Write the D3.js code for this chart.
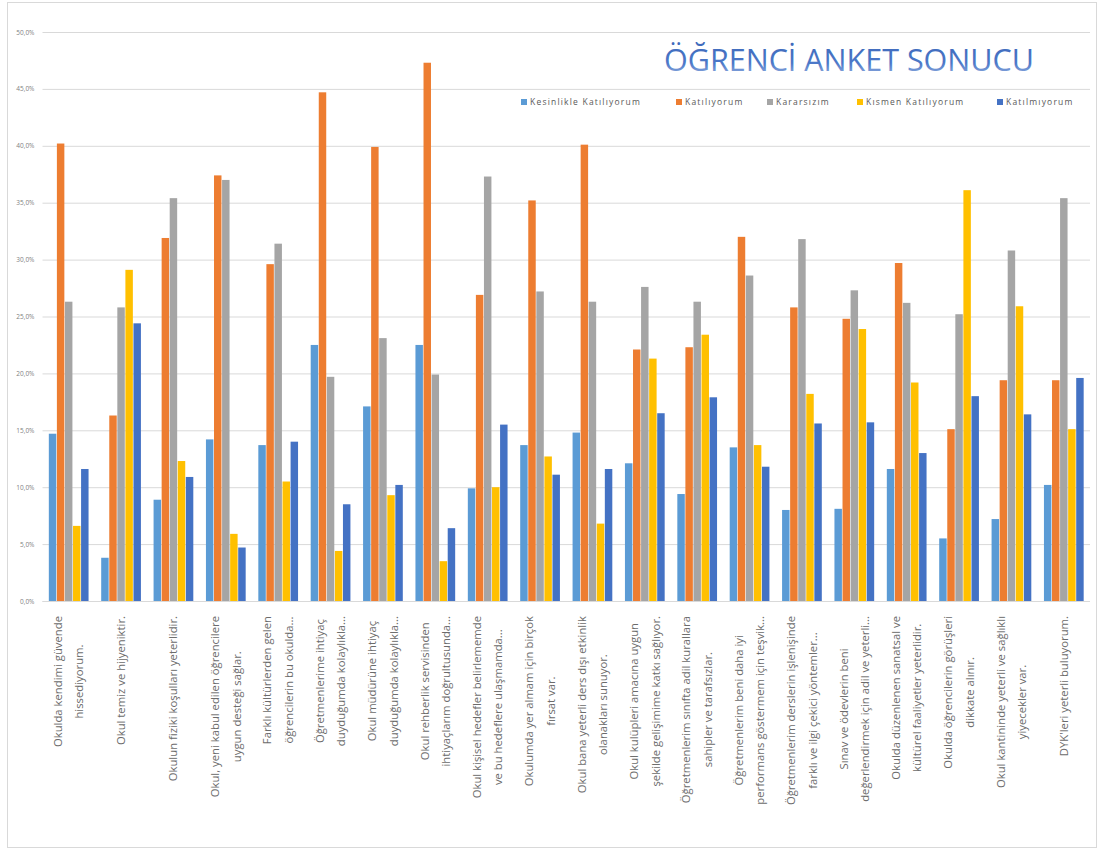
<!DOCTYPE html>
<meta charset="utf-8">
<script src="https://d3js.org/d3.v7.min.js"></script>
<style>
    body { margin: 0; background: #fff; }
    text { font-family: "Open Sans", "DejaVu Sans", sans-serif; }
</style>
<div id="my_dataviz"></div>
<script>
    // categories (survey statements), already wrapped as Excel shows them
    var categories = [
        ["Okulda kendimi güvende", "hissediyorum."],
        ["Okul temiz ve hijyeniktir."],
        ["Okulun fiziki koşulları yeterlidir."],
        ["Okul, yeni kabul edilen öğrencilere", "uygun desteği sağlar."],
        ["Farklı kültürlerden gelen", "öğrencilerin bu okulda..."],
        ["Öğretmenlerime ihtiyaç", "duyduğumda kolaylıkla..."],
        ["Okul müdürüne ihtiyaç", "duyduğumda kolaylıkla..."],
        ["Okul rehberlik servisinden", "ihtiyaçlarım doğrultusunda..."],
        ["Okul kişisel hedefler belirlememde", "ve bu hedeflere ulaşmamda..."],
        ["Okulumda yer almam için birçok", "fırsat var."],
        ["Okul bana yeterli ders dışı etkinlik", "olanakları sunuyor."],
        ["Okul kulüpleri amacına uygun", "şekilde gelişimime katkı sağlıyor."],
        ["Öğretmenlerim sınıfta adil kurallara", "sahipler ve tarafsızlar."],
        ["Öğretmenlerim beni daha iyi", "performans göstermem için teşvik..."],
        ["Öğretmenlerim derslerin işlenişinde", "farklı ve ilgi çekici yöntemler..."],
        ["Sınav ve ödevlerin beni", "değerlendirmek için adil ve yeterli..."],
        ["Okulda düzenlenen sanatsal ve", "kültürel faaliyetler yeterlidir."],
        ["Okulda öğrencilerin görüşleri", "dikkate alınır."],
        ["Okul kantininde yeterli ve sağlıklı", "yiyecekler var."],
        ["DYK'leri yeterli buluyorum."]
    ];

    var seriesNames = ["Kesinlikle Katılıyorum", "Katılıyorum", "Kararsızım", "Kısmen Katılıyorum", "Katılmıyorum"];
    var seriesColors = ["#5B9BD5", "#ED7D31", "#A5A5A5", "#FFC000", "#4472C4"];

    // percentages per series, one value per category
    var kesinlikleKatiliyorum = [14.7, 3.8, 8.9, 14.2, 13.7, 22.5, 17.1, 22.5, 9.9, 13.7, 14.8, 12.1, 9.4, 13.5, 8.0, 8.1, 11.6, 5.5, 7.2, 10.2];
    var katiliyorum = [40.2, 16.3, 31.9, 37.4, 29.6, 44.7, 39.9, 47.3, 26.9, 35.2, 40.1, 22.1, 22.3, 32.0, 25.8, 24.8, 29.7, 15.1, 19.4, 19.4];
    var kararsizim = [26.3, 25.8, 35.4, 37.0, 31.4, 19.7, 23.1, 19.9, 37.3, 27.2, 26.3, 27.6, 26.3, 28.6, 31.8, 27.3, 26.2, 25.2, 30.8, 35.4];
    var kismenKatiliyorum = [6.6, 29.1, 12.3, 5.9, 10.5, 4.4, 9.3, 3.5, 10.0, 12.7, 6.8, 21.3, 23.4, 13.7, 18.2, 23.9, 19.2, 36.1, 25.9, 15.1];
    var katilmiyorum = [11.6, 24.4, 10.9, 4.7, 14.0, 8.5, 10.2, 6.4, 15.5, 11.1, 11.6, 16.5, 17.9, 11.8, 15.6, 15.7, 13.0, 18.0, 16.4, 19.6];

    var yTicks = [0, 5, 10, 15, 20, 25, 30, 35, 40, 45, 50];

    var allSeries = [kesinlikleKatiliyorum, katiliyorum, kararsizim, kismenKatiliyorum, katilmiyorum];

    var W = 1099, H = 852;
    var plot = { left: 42.5, right: 1090, top: 32, bottom: 601 };

    var svg = d3.select("#my_dataviz")
        .append("svg")
        .attr("width", W)
        .attr("height", H);

    // chart frame
    svg.append("clipPath").attr("id", "frameClip")
        .append("rect").attr("x", 7).attr("y", 2).attr("width", 1090).attr("height", 846);
    svg.append("rect")
        .attr("x", 7.5).attr("y", 2.5).attr("width", 1089).attr("height", 845)
        .attr("fill", "#fff").attr("stroke", "#d9d9d9").attr("stroke-width", 1);

    var root = svg.append("g").attr("clip-path", "url(#frameClip)");

    // ---------------------------//
    //       SCALES               //
    // ---------------------------//
    var x = d3.scaleBand()
        .domain(d3.range(categories.length))
        .range([plot.left, plot.right])
        .paddingInner(0.23)
        .paddingOuter(0.115);

    var xSub = d3.scaleBand()
        .domain(seriesNames)
        .range([0, x.bandwidth()]);

    var y = d3.scaleLinear()
        .domain([0, 50])
        .range([plot.bottom, plot.top]);

    // gridlines + y labels
    var yAxis = d3.axisLeft(y)
        .tickValues(yTicks)
        .tickSize(-(plot.right - plot.left))
        .tickPadding(8)
        .tickFormat(function (d) { return d.toFixed(1).replace(".", ",") + "%"; });

    root.append("g")
        .attr("transform", "translate(" + plot.left + ",0)")
        .call(yAxis)
        .call(function (g) {
            g.select(".domain").remove();
            g.selectAll(".tick line").attr("stroke", "#d9d9d9").attr("stroke-width", 1);
            g.selectAll(".tick text")
                .attr("fill", "#7f7f7f")
                .style("font-size", "6.5px");
        });

    // ---------------------------//
    //       BARS                 //
    // ---------------------------//
    var groups = root.append("g")
        .selectAll("g")
        .data(categories)
        .join("g")
        .attr("transform", function (d, i) { return "translate(" + x(i) + ",0)"; });

    groups.selectAll("rect")
        .data(function (d, i) {
            return seriesNames.map(function (s, k) { return { series: s, k: k, value: allSeries[k][i] }; });
        })
        .join("rect")
        .attr("x", function (d) { return xSub(d.series) + 0.3; })
        .attr("width", xSub.bandwidth() - 0.6)
        .attr("y", function (d) { return y(d.value); })
        .attr("height", function (d) { return y(0) - y(d.value); })
        .attr("fill", function (d) { return seriesColors[d.k]; });

    // x axis line
    root.append("line")
        .attr("x1", plot.left).attr("x2", plot.right)
        .attr("y1", plot.bottom + 0.5).attr("y2", plot.bottom + 0.5)
        .attr("stroke", "#d9d9d9");

    // ---------------------------//
    //       CATEGORY LABELS      //
    // ---------------------------//
    var lh = 21.5;
    var labelTop = plot.bottom + 15;
    var labels = root.append("g")
        .selectAll("text")
        .data(categories)
        .join("text")
        .attr("fill", "#6b6b6b")
        .style("font-size", "11.3px")
        .attr("text-anchor", "middle");

    labels.selectAll("tspan")
        .data(function (d) { return d; })
        .join("tspan")
        .attr("x", 0)
        .attr("y", function (d, j, nodes) { return (j - (nodes.length - 1) / 2) * lh; })
        .attr("dy", "0.35em")
        .text(function (d) { return d; });

    labels.attr("transform", function (d, i) {
        var maxW = d3.max(d3.select(this).selectAll("tspan").nodes(), function (n) { return n.getComputedTextLength(); });
        var cx = x(i) + x.bandwidth() / 2;
        return "translate(" + cx + "," + (labelTop + maxW / 2) + ") rotate(-90)";
    });

    // ---------------------------//
    //       TITLE                //
    // ---------------------------//
    var grad = svg.append("defs").append("linearGradient")
        .attr("id", "titleGrad").attr("x1", 0).attr("y1", 0).attr("x2", 0).attr("y2", 1);
    grad.append("stop").attr("offset", "0%").attr("stop-color", "#3B66B8");
    grad.append("stop").attr("offset", "60%").attr("stop-color", "#4C78C8");
    grad.append("stop").attr("offset", "100%").attr("stop-color", "#A9BFE6");

    root.append("text")
        .attr("x", 849)
        .attr("y", 71)
        .attr("text-anchor", "middle")
        .attr("fill", "url(#titleGrad)")
        .style("font-size", "30.5px")
        .text("ÖĞRENCİ ANKET SONUCU");

    // ---------------------------//
    //       LEGEND               //
    // ---------------------------//
    var legendX = [521, 676, 767, 857, 997];
    var legend = root.append("g")
        .selectAll("g")
        .data(seriesNames)
        .join("g")
        .attr("transform", function (d, i) { return "translate(" + legendX[i] + ",102)"; });

    legend.append("rect")
        .attr("x", 0).attr("y", -3)
        .attr("width", 6).attr("height", 6)
        .attr("fill", function (d, i) { return seriesColors[i]; });

    legend.append("text")
        .attr("x", 9)
        .attr("dy", "0.35em")
        .attr("fill", "#595959")
        .style("font-size", "8.5px")
        .style("letter-spacing", "1.2px")
        .text(function (d) { return d; });
</script>
